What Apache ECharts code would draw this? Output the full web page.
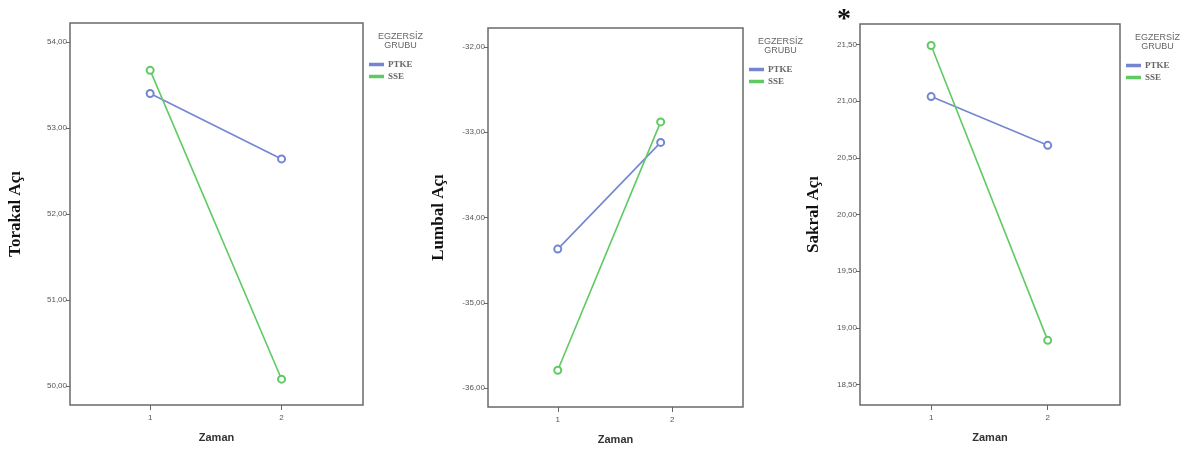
<!DOCTYPE html>
<html lang="tr">
<head>
<meta charset="UTF-8">
<title>Zaman - Açı</title>
<script src="https://cdn.jsdelivr.net/npm/echarts@6/dist/echarts.min.js"></script>
<style>
  html, body { margin: 0; padding: 0; background: #fff; }
  #chart { width: 1185px; height: 450px; }
</style>
</head>
<body>
<div id="chart"></div>
<script>
// zaman noktalari (x)
var timeX = [1, 2];
var lumbalTimeX = [1, 1.9];   // orta grafikte 2. noktalar tick'in biraz solunda
var timeTicks = [1, 2];

var groups = ['PTKE', 'SSE'];

// Torakal
var torakalPTKE = [53.40, 52.64];
var torakalSSE = [53.67, 50.08];
var torakalTicks = [50, 51, 52, 53, 54];

// Lumbal
var lumbalPTKE = [-34.37, -33.12];
var lumbalSSE = [-35.79, -32.88];
var lumbalTicks = [-36, -35, -34, -33, -32];

// Sakral
var sakralPTKE = [21.04, 20.61];
var sakralSSE = [21.49, 18.89];
var sakralTicks = [18.5, 19, 19.5, 20, 20.5, 21, 21.5];

var blue = '#7486d2';
var green = '#5fca62';

function pairs(xs, ys) {
    var out = [];
    for (var i = 0; i < xs.length; i++) out.push([xs[i], ys[i]]);
    return out;
}
function fmt(v) { return v.toFixed(2).replace('.', ','); }

var grids = [
    {left: 70, top: 23, width: 293, height: 382},
    {left: 488, top: 28, width: 255, height: 380},
    {left: 860, top: 24, width: 260, height: 381}
];
var yRanges = [[49.78, 54.22], [-36.22, -31.78], [18.32, 21.68]];
var yTicks = [torakalTicks, lumbalTicks, sakralTicks];
var yNames = ['Torakal Açı', 'Lumbal Açı', 'Sakral Açı'];
var yGaps = [46, 41, 38];

var myChart = echarts.init(document.getElementById('chart'));

var option = {
    backgroundColor: '#fff',
    animation: false,
    grid: grids.map(function (g) {
        return {left: g.left, top: g.top, width: g.width, height: g.height,
            show: true, borderColor: '#6a6a6a', borderWidth: 1.5, backgroundColor: 'transparent'};
    }),
    xAxis: grids.map(function (g, i) {
        return {
            type: 'value', gridIndex: i, min: 0.39, max: 2.62,
            name: 'Zaman', nameLocation: 'middle', nameGap: 27,
            nameTextStyle: {fontFamily: 'Liberation Sans', fontWeight: 'bold', fontSize: 11, color: '#333'},
            axisLine: {show: false},
            splitLine: {show: false},
            axisTick: {show: true, customValues: timeTicks, length: 5, inside: false, lineStyle: {color: '#666'}},
            axisLabel: {customValues: timeTicks, fontSize: 8, color: '#555', margin: 9, fontFamily: 'Liberation Sans'}
        };
    }),
    yAxis: grids.map(function (g, i) {
        return {
            type: 'value', gridIndex: i, min: yRanges[i][0], max: yRanges[i][1],
            name: yNames[i], nameLocation: 'middle', nameGap: yGaps[i], nameRotate: 90,
            nameTextStyle: {fontFamily: 'Liberation Serif', fontWeight: 'bold', fontSize: 17, color: '#111'},
            axisLine: {show: false},
            splitLine: {show: false},
            axisTick: {show: true, customValues: yTicks[i], length: 4, lineStyle: {color: '#666'}},
            axisLabel: {customValues: yTicks[i], fontSize: 8, color: '#555', margin: 3,
                fontFamily: 'Liberation Sans', formatter: fmt}
        };
    }),
    legend: grids.map(function (g, i) {
        return {
            orient: 'vertical', left: g.left + g.width + 1, top: g.top + 32,
            data: groups, icon: 'rect', itemWidth: 13, itemHeight: 1.5, itemGap: 3,
            textStyle: {fontFamily: 'Liberation Serif', fontWeight: 'bold', fontSize: 9, color: '#666'},
            selectedMode: false
        };
    }),
    graphic: grids.map(function (g) {
        return {
            type: 'text', left: g.left + g.width + 15, top: g.top + 9,
            style: {text: 'EGZERSİZ\nGRUBU', textAlign: 'center', fill: '#666',
                font: '9px "Liberation Sans"', lineHeight: 9}
        };
    }).concat([{
        type: 'text', left: 837, top: 6,
        style: {text: '*', fill: '#111', font: 'bold 28px "Liberation Serif"'}
    }]),
    series: [
        {name: 'PTKE', data: pairs(timeX, torakalPTKE), xAxisIndex: 0, yAxisIndex: 0},
        {name: 'SSE', data: pairs(timeX, torakalSSE), xAxisIndex: 0, yAxisIndex: 0},
        {name: 'PTKE', data: pairs(lumbalTimeX, lumbalPTKE), xAxisIndex: 1, yAxisIndex: 1},
        {name: 'SSE', data: pairs(lumbalTimeX, lumbalSSE), xAxisIndex: 1, yAxisIndex: 1},
        {name: 'PTKE', data: pairs(timeX, sakralPTKE), xAxisIndex: 2, yAxisIndex: 2},
        {name: 'SSE', data: pairs(timeX, sakralSSE), xAxisIndex: 2, yAxisIndex: 2}
    ].map(function (s) {
        var c = s.name === 'PTKE' ? blue : green;
        s.type = 'line';
        s.symbol = 'emptyCircle';
        s.symbolSize = 7;
        s.color = c;
        s.lineStyle = {color: c, width: 1.6};
        s.itemStyle = {color: c, borderColor: c, borderWidth: 1.2};
        return s;
    })
};

myChart.setOption(option);
</script>
</body>
</html>
